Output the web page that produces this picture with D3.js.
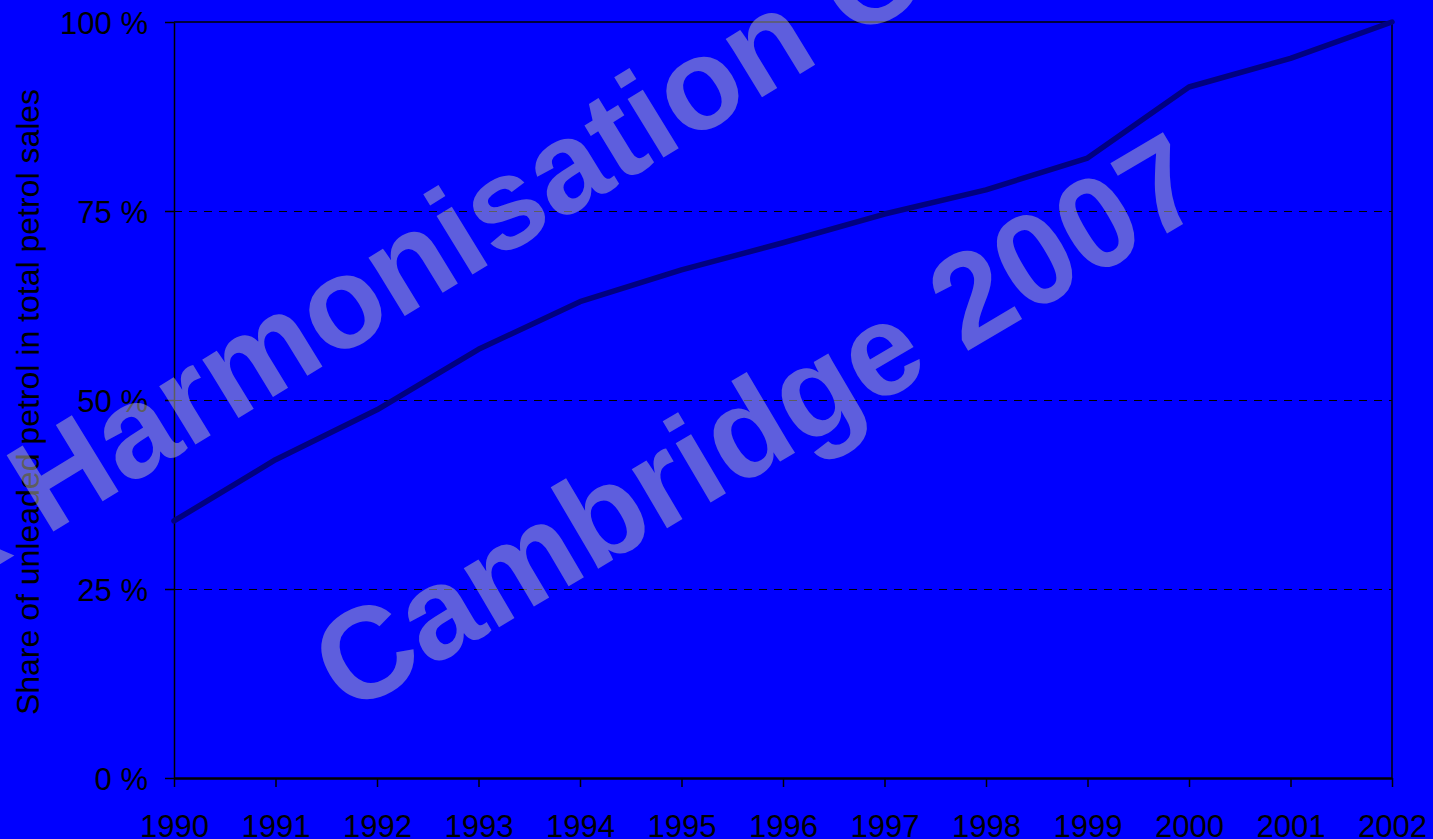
<!DOCTYPE html>
<html>
<head>
<meta charset="utf-8">
<script src="https://cdn.jsdelivr.net/npm/d3@7/dist/d3.min.js"></script>
<style>
  html, body { margin: 0; padding: 0; background: #0000FF; overflow: hidden; }
  svg { display: block; }
  text { font-family: "Liberation Sans", Arial, sans-serif; }
</style>
</head>
<body>
<svg id="chart" width="1433" height="839"></svg>
<script>
const years = [1990,1991,1992,1993,1994,1995,1996,1997,1998,1999,2000,2001,2002];
const unleadedShare = [34.0,42.1,48.7,56.7,63.0,67.2,70.8,74.6,77.8,82.0,91.4,95.2,100];
const yTicks = [0,25,50,75,100];
const yTitle = "Share of unleaded petrol in total petrol sales";
const watermark1 = "Tax Harmonisation Centre";
const watermark2 = "Cambridge 2007";

const W = 1433, H = 839;
const m = {left: 174, right: 1392, top: 22, bottom: 778};
const svg = d3.select("#chart");

svg.append("rect").attr("width", W).attr("height", H).attr("fill", "#0000FF");

const x = d3.scaleLinear().domain([1990, 2002]).range([m.left, m.right]);
const y = d3.scaleLinear().domain([0, 100]).range([m.bottom, m.top]);

// gridlines (dashed) for intermediate ticks
svg.append("g").selectAll("line").data(yTicks.filter(d => d > 0 && d < 100)).join("line")
  .attr("x1", m.left).attr("x2", m.right)
  .attr("y1", d => y(d) + 0.5).attr("y2", d => y(d) + 0.5)
  .attr("stroke", "#000").attr("stroke-width", 1)
  .attr("stroke-dasharray", "8,7");

// frame top and right
svg.append("line").attr("x1", m.left).attr("x2", m.right).attr("y1", y(100)).attr("y2", y(100))
  .attr("stroke", "#000").attr("stroke-width", 1.5);
svg.append("line").attr("x1", m.right).attr("x2", m.right).attr("y1", m.top).attr("y2", m.bottom)
  .attr("stroke", "#000").attr("stroke-width", 1.5);

// y axis
const yAxis = svg.append("g").attr("transform", `translate(${m.left},0)`)
  .call(d3.axisLeft(y).tickValues(yTicks).tickSize(9).tickSizeOuter(0).tickPadding(17).tickFormat(d => d + " %"));
yAxis.select(".domain").attr("stroke", "#000").attr("stroke-width", 1.5);
yAxis.selectAll(".tick line").attr("stroke", "#000").attr("stroke-width", 1.5);
yAxis.selectAll(".tick text").attr("fill", "#000").style("font-size", "31px")
  .style("font-family", "'Liberation Sans', Arial, sans-serif").attr("dy", "0.36em");

// x axis
const xAxis = svg.append("g").attr("transform", `translate(0,${m.bottom})`)
  .call(d3.axisBottom(x).tickValues(years).tickSize(9).tickSizeOuter(0).tickPadding(28).tickFormat(d3.format("d")));
xAxis.select(".domain").attr("stroke", "#000").attr("stroke-width", 2.5);
xAxis.selectAll(".tick line").attr("stroke", "#000").attr("stroke-width", 1.5);
xAxis.selectAll(".tick text").attr("fill", "#000").style("font-size", "31px")
  .style("font-family", "'Liberation Sans', Arial, sans-serif");

// y title
svg.append("text")
  .attr("transform", `translate(39,${(m.top + m.bottom) / 2 + 2}) rotate(-90)`)
  .attr("text-anchor", "middle")
  .attr("fill", "#000")
  .style("font-size", "32px")
  .text(yTitle);

// line
const line = d3.line().x((d, i) => x(years[i])).y(d => y(d));
svg.append("path").datum(unleadedShare)
  .attr("d", line)
  .attr("fill", "none")
  .attr("stroke", "#000080")
  .attr("stroke-width", 5.5)
  .attr("stroke-linejoin", "round")
  .attr("stroke-linecap", "round");

// watermark
const wm = svg.append("g").attr("fill", "rgb(188,188,188)").attr("fill-opacity", 0.5)
  .style("font-weight", "bold").style("font-size", "130px");
const t1 = wm.append("text").text(watermark1);
const preW = t1.node().getSubStringLength(0, 4);
t1.attr("transform", `translate(46,536) rotate(-31.5) translate(${-preW},0)`);
wm.append("text").attr("transform", "translate(348,716) rotate(-30.5)").text(watermark2);
</script>
</body>
</html>
